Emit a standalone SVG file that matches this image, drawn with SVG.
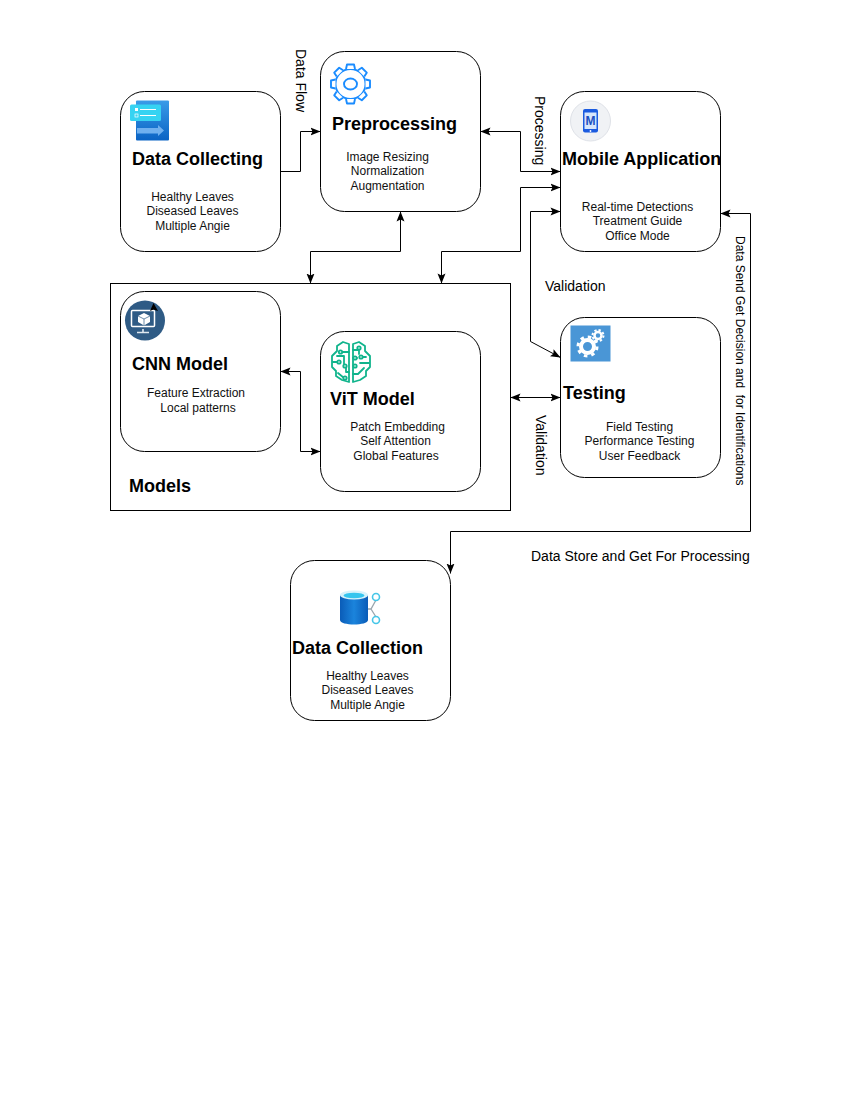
<svg xmlns="http://www.w3.org/2000/svg" xmlns:xlink="http://www.w3.org/1999/xlink" width="850" height="1100" viewBox="0 0 850 1100">
<style>
text{font-family:"Liberation Sans",Arial,sans-serif;fill:#000}
.box{fill:#fff;stroke:#000;stroke-width:1}
.t{font-size:18px;font-weight:bold}
.b{font-size:12px;text-anchor:middle;fill:#111}
.l{font-size:14px}
.c{fill:none;stroke:#000;stroke-width:1}
.e{marker-end:url(#a)}
.s{marker-start:url(#as)}
</style>
<defs>
<marker id="a" markerUnits="userSpaceOnUse" markerWidth="12" markerHeight="10" refX="10" refY="5" orient="auto"><path d="M0,1 L10,5 L0,9 L2,5Z" fill="#000"/></marker>
<marker id="as" markerUnits="userSpaceOnUse" markerWidth="12" markerHeight="10" refX="0" refY="5" orient="auto"><path d="M10,1 L0,5 L10,9 L8,5Z" fill="#000"/></marker>
<linearGradient id="g1" x1="0" y1="0" x2="0" y2="1"><stop offset="0" stop-color="#3a9be8"/><stop offset="1" stop-color="#0a63c4"/></linearGradient>
<linearGradient id="g2" x1="0" y1="0" x2="1" y2="0"><stop offset="0" stop-color="#0a5cb8"/><stop offset=".5" stop-color="#1b84dc"/><stop offset="1" stop-color="#0a5cb8"/></linearGradient>
<g id="tooth"><path d="M-4.5,-15 L-3.5,-19.5 H3.5 L4.5,-15Z" fill="#fff"/><path d="M-4.5,-15 L-3.5,-19.5 H3.5 L4.5,-15" fill="none" stroke="#1a8cff" stroke-width="1.9" stroke-linejoin="round"/></g>
</defs>
<rect width="850" height="1100" fill="#fff"/>
<g id="models"><rect x="110.5" y="283.5" width="400" height="227" fill="#fff" stroke="#000"/><text class="t" x="129" y="492">Models</text></g>
<g id="data-collecting">
<rect class="box" x="120.5" y="91.5" width="160" height="160" rx="24"/>
<rect x="136" y="100.5" width="33" height="40" rx="1" fill="url(#g1)"/>
<path d="M137,128 H158 V125 L164,130.5 L158,136 V133.500 H137Z" fill="#6fb0ef"/>
<rect x="130" y="104.5" width="31" height="16.5" rx="1.5" fill="#36d3f2"/>
<rect x="135" y="108" width="3" height="3" fill="#fff"/><rect x="135" y="114" width="3" height="3" fill="none" stroke="#fff" stroke-width=".7"/>
<path d="M140,109.5 H156 M140,115.5 H156" stroke="#fff" stroke-width="1"/>
<text class="t" x="132" y="165">Data Collecting</text>
<text class="b" x="192.5" y="201">Healthy Leaves</text><text class="b" x="192.5" y="215">Diseased Leaves</text><text class="b" x="192.5" y="230">Multiple Angie</text>
</g>
<g id="preprocessing">
<rect class="box" x="320.5" y="51.5" width="160" height="160" rx="24"/>
<g transform="translate(350.5,84)">
<circle r="15" fill="#fff" stroke="#1a8cff" stroke-width="1.9"/>
<use xlink:href="#tooth"/><use xlink:href="#tooth" transform="rotate(45)"/><use xlink:href="#tooth" transform="rotate(90)"/><use xlink:href="#tooth" transform="rotate(135)"/><use xlink:href="#tooth" transform="rotate(180)"/><use xlink:href="#tooth" transform="rotate(225)"/><use xlink:href="#tooth" transform="rotate(270)"/><use xlink:href="#tooth" transform="rotate(315)"/>
<ellipse rx="6.500" ry="5.500" fill="#fff" stroke="#1a8cff" stroke-width="1.900"/>
</g>
<text class="t" x="332" y="130">Preprocessing</text>
<text class="b" x="387.5" y="161">Image Resizing</text><text class="b" x="387.5" y="175">Normalization</text><text class="b" x="387.5" y="190">Augmentation</text>
</g>
<g id="mobile-application">
<rect class="box" x="560.5" y="91.5" width="160" height="160" rx="24"/>
<circle cx="590.5" cy="121" r="20" fill="#f0f2f5" stroke="#dfe2e8"/>
<rect x="583" y="109" width="15" height="23.5" rx="2" fill="#1b5be0"/>
<rect x="584.5" y="112.5" width="12" height="16.5" fill="#d6e6fb"/>
<circle cx="590.5" cy="131" r=".9" fill="#fff"/>
<text x="590.5" y="125" font-size="12" font-weight="bold" text-anchor="middle" style="fill:#1b4fc0">M</text>
<text class="t" x="562" y="165">Mobile Application</text>
<text class="b" x="637.5" y="211">Real-time Detections</text><text class="b" x="637.5" y="225">Treatment Guide</text><text class="b" x="637.5" y="240">Office Mode</text>
</g>
<g id="cnn-model">
<rect class="box" x="120.5" y="291.5" width="160" height="160" rx="24"/>
<circle cx="145" cy="320.5" r="20" fill="#2f5b85"/>
<rect x="131.5" y="310.5" width="23" height="16" rx="1" fill="none" stroke="#fff" stroke-width="1.5"/>
<path d="M143,329 V332 M137,332.5 H149" stroke="#dfe8f0" stroke-width="1.6"/>
<path d="M144,313 L150,316 V322 L144,325.5 L138,322 V316Z" fill="#fff"/>
<path d="M138,316 L144,319 L150,316 M144,319 V325.5" fill="none" stroke="#2f5b85" stroke-width=".7"/>
<path d="M153.500,303 L158,311 L153.500,309.500 L150,311Z" fill="#000"/>
<text class="t" x="132" y="370">CNN Model</text>
<text class="b" x="196" y="397">Feature Extraction</text><text class="b" x="198" y="412">Local patterns</text>
</g>
<g id="vit-model">
<rect class="box" x="320.5" y="331.5" width="160" height="160" rx="24"/>
<g fill="none" stroke="#10b48c" stroke-width="1.800" stroke-linejoin="round" stroke-linecap="round">
<path d="M349,344 L343,342 L337,346 V351 L332,356 V367 L336,371 V376 L342,380 L349,382 Z"/>
<path d="M353,344 L359,342 L365,346 V351 L370,356 V367 L366,371 V376 L360,380 L353,382 Z"/>
<path d="M349,352 L342,352 M337,356 H344 V364 M333,362 H339 M349,372 H346 V366 M338,373 L344,378"/>
<path d="M353,350 L359,350 V354 M353,358 H357 M360,363 H369 M353,374 H358 L364,368 M361,357 H366"/>
<circle cx="340.500" cy="352" r="1.700" fill="#fff"/><circle cx="339" cy="362" r="1.700" fill="#fff"/><circle cx="345" cy="366" r="1.700" fill="#fff"/><circle cx="345" cy="378" r="1.700" fill="#fff"/>
<circle cx="359" cy="348" r="1.700" fill="#fff"/><circle cx="355" cy="358" r="1.700" fill="#fff"/><circle cx="355" cy="366" r="1.700" fill="#fff"/><circle cx="361" cy="357" r="1.700" fill="#fff"/>
</g>
<text class="t" x="330" y="405">ViT Model</text>
<text class="b" x="397.500" y="431">Patch Embedding</text><text class="b" x="395.500" y="445">Self Attention</text><text class="b" x="396" y="460">Global Features</text>
</g>
<g id="testing">
<rect class="box" x="560.5" y="317.5" width="160" height="160" rx="24"/>
<rect x="570.5" y="325.5" width="40" height="36" fill="#4a96d6"/>
<circle cx="587.5" cy="346.5" r="6.500" fill="none" stroke="#fff" stroke-width="4"/>
<circle cx="587.500" cy="346.500" r="9.500" fill="none" stroke="#fff" stroke-width="3" stroke-dasharray="3.500 3.960"/>
<circle cx="598" cy="335.500" r="3.500" fill="none" stroke="#fff" stroke-width="2.500"/>
<circle cx="598" cy="335.500" r="5.500" fill="none" stroke="#fff" stroke-width="2" stroke-dasharray="2.300 2"/>
<text class="t" x="563" y="399">Testing</text>
<text class="b" x="639.5" y="431">Field Testing</text><text class="b" x="639.5" y="445">Performance Testing</text><text class="b" x="639.5" y="460">User Feedback</text>
</g>
<g id="data-collection">
<rect class="box" x="290.5" y="560.5" width="160" height="160" rx="24"/>
<path d="M340,595 V620 C340,626 368,626 368,620 V595Z" fill="url(#g2)"/>
<ellipse cx="354" cy="595" rx="14" ry="4.500" fill="#d8f2fb"/>
<ellipse cx="354" cy="595.500" rx="10.500" ry="2.800" fill="#35c5ee"/>
<path d="M368,609 H371 L376,600 M371,609 L376,617" fill="none" stroke="#9aa5ad" stroke-width="1.300"/>
<circle cx="376" cy="597" r="3.500" fill="#fff" stroke="#45c6e8" stroke-width="1.600"/><circle cx="376" cy="620" r="3.500" fill="#fff" stroke="#45c6e8" stroke-width="1.600"/>
<text class="t" x="292" y="654">Data Collection</text>
<text class="b" x="367.5" y="680">Healthy Leaves</text><text class="b" x="367.5" y="694">Diseased Leaves</text><text class="b" x="367.5" y="709">Multiple Angie</text>
</g>
<g id="connectors">
<path class="c e" d="M280.5,171.500 H300.500 V131.500 H320.500"/>
<path class="c e s" d="M480.500,131.500 H520.500 V171.500 H560.500"/>
<path class="c e s" d="M400.500,211.500 V251.500 H310.500 V283.500"/>
<path class="c e s" d="M441.500,283.500 V251.500 H520.500 V187.500 H560.500"/>
<path class="c e s" d="M560.500,211.500 H530.500 V341.500 L560.500,357.500"/>
<path class="c e s" d="M280.500,371.500 H300.500 V451.500 H320.500"/>
<path class="c e s" d="M510.500,397.500 H560.500"/>
<path class="c e s" d="M720.500,213.500 H750.500 V531.500 H450.500 V573.500"/>
</g>
<g id="labels">
<text class="l" transform="translate(295.500,49) rotate(90)">Data Flow</text>
<text class="l" transform="translate(535,96) rotate(90)">Processing</text>
<text class="l" x="545" y="291">Validation</text>
<text class="l" transform="translate(536,415) rotate(90)">Validation</text>
<text transform="translate(735.500,236) rotate(90)" font-size="12" xml:space="preserve" style="white-space:pre">Data Send Get Decision and  for Identifications</text>
<text class="l" x="531" y="561">Data Store and Get For Processing</text>
</g>
</svg>
